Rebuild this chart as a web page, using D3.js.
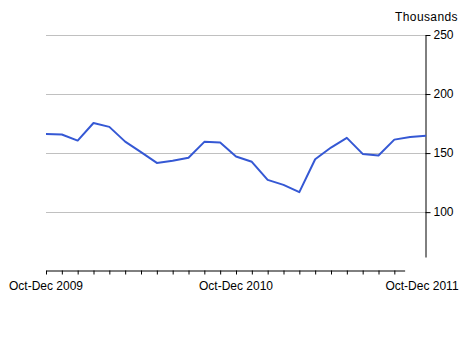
<!DOCTYPE html>
<html>
<head>
<meta charset="utf-8">
<script src="https://cdn.jsdelivr.net/npm/d3@7"></script>
<style>
  body { margin: 0; background: #fff; }
  text { font-family: "Liberation Sans", Arial, sans-serif; font-size: 12px; fill: #000; }
</style>
</head>
<body>
<svg id="chart" width="472" height="338"></svg>
<script>
// quarterly values, thousands (rolling quarters Oct-Dec 2009 .. Oct-Dec 2011)
const values = [166.2, 165.7, 160.6, 175.5, 172.2, 159.7, 150.8, 141.7, 143.5, 146.0,
  159.5, 158.9, 147.1, 142.6, 127.3, 123.1, 116.9, 144.8, 154.7, 162.9,
  149.3, 147.9, 161.4, 163.7, 164.6];
const xLabels = [{i: 0, text: "Oct-Dec 2009"}, {i: 12, text: "Oct-Dec 2010"}, {i: 24, text: "Oct-Dec 2011"}];
const yTicks = [100, 150, 200, 250];
const unitLabel = "Thousands";

const svg = d3.select("#chart");

const x = d3.scaleLinear().domain([0, values.length - 1]).range([46, 426]);
const y = d3.scaleLinear().domain([62, 250]).range([257, 35]);

// gridlines
svg.append("g").selectAll("line").data(yTicks)
  .enter().append("line")
  .attr("x1", x(0)).attr("x2", x(24))
  .attr("y1", d => Math.round(y(d)) + 0.5).attr("y2", d => Math.round(y(d)) + 0.5)
  .attr("stroke", "#c0c0c0");

// right axis
const yAxis = svg.append("g")
  .attr("transform", "translate(" + (x(24) - 0.5) + ",0)")
  .call(d3.axisRight(y).tickValues(yTicks).tickSize(5).tickSizeOuter(0).tickPadding(3));
yAxis.select(".domain").attr("stroke", "#000");
yAxis.selectAll("text").style("font-size", "12px").style("font-family", "Liberation Sans, Arial, sans-serif");

// bottom axis (line stops short of the last quarter, like the original)
const xa = x.copy().domain([0, 22.65]).range([x(0), x(22.65)]);
svg.append("g")
  .attr("transform", "translate(0,270.5)")
  .call(d3.axisBottom(xa).tickValues(d3.range(23)).tickSize(4).tickSizeOuter(0).tickFormat(""))
  .select(".domain").attr("stroke", "#000");

svg.append("g").selectAll("text").data(xLabels)
  .enter().append("text")
  .attr("x", d => x(d.i) + (d.i === 24 ? -4 : 0))
  .attr("y", 290)
  .attr("text-anchor", "middle")
  .text(d => d.text);

svg.append("text")
  .attr("x", 458).attr("y", 21)
  .attr("text-anchor", "end")
  .style("letter-spacing", "0.4px")
  .text(unitLabel);

// series line
const line = d3.line().x((d, i) => x(i)).y(d => y(d));
svg.append("path")
  .datum(values)
  .attr("fill", "none")
  .attr("stroke", "#3558d4")
  .attr("stroke-width", 2)
  .attr("stroke-linejoin", "round")
  .attr("d", line);
</script>
</body>
</html>
